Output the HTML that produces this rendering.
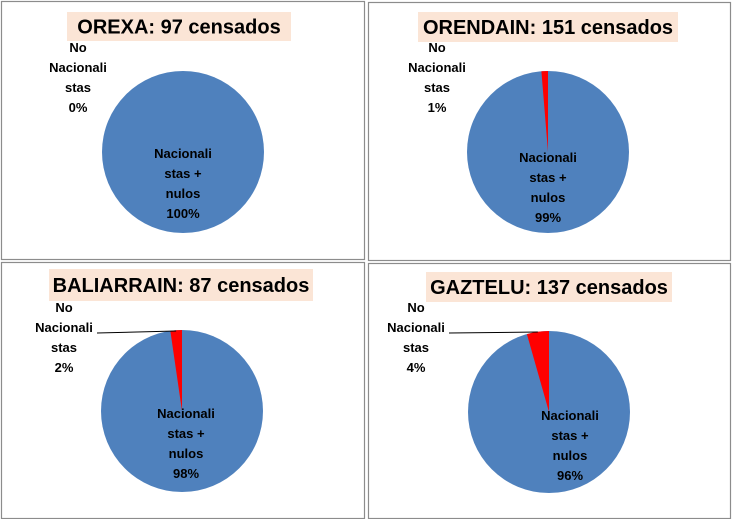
<!DOCTYPE html>
<html><head><meta charset="utf-8"><style>
body{margin:0;width:732px;height:519px;background:#fff;overflow:hidden;font-family:"Liberation Sans",sans-serif}
svg text{font-family:"Liberation Sans",sans-serif;font-weight:bold}
</style></head><body>
<svg id="c" width="732" height="519"></svg>
<script>
const titles=["OREXA: 97  censados","ORENDAIN: 151 censados","BALIARRAIN: 87 censados","GAZTELU: 137 censados"];
const noNacPct=[0,1.3,2.3,4.4];
const noNacLabels=["0%","1%","2%","4%"];
const nacLabels=["100%","99%","98%","96%"];
const NS="http://www.w3.org/2000/svg";
const svg=document.getElementById('c');
const panels=[
 {x:1,y:1,w:363,h:258,cx:183,cy:152,tx:67,ty:12,tw:224,th:29,lx:78,ly:52,ix:183,iy:158,leader:false},
 {x:368,y:2,w:362,h:258,cx:548,cy:152,tx:418,ty:12,tw:260,th:30,lx:437,ly:52,ix:548,iy:162,leader:false},
 {x:1,y:262,w:363,h:256,cx:182,cy:411,tx:49,ty:269,tw:264,th:32,lx:64,ly:312,ix:186,iy:418,leader:true},
 {x:368,y:263,w:362,h:255,cx:549,cy:412,tx:426,ty:272,tw:246,th:30,lx:416,ly:312,ix:570,iy:420,leader:true}];
function el(t,a,p){const e=document.createElementNS(NS,t);for(const k in a)e.setAttribute(k,a[k]);(p||svg).appendChild(e);return e;}
const R=81;
panels.forEach((p,i)=>{
 const g=el('g',{});
 
 
 el('rect',{x:p.x+0.5,y:p.y+0.5,width:p.w,height:p.h,fill:'#fff',stroke:'#8c8c8c','stroke-width':1.2},g);
 const tb=el('rect',{x:p.tx,y:p.ty,width:p.tw,height:p.th,fill:'#fbe5d6'},g);
 
 
 const tt=el('text',{x:p.tx+p.tw/2,y:p.ty+p.th/2+7,'text-anchor':'middle','font-size':20,fill:'#000'},g);
 tt.textContent=titles[i];
 
 
 const c=el('circle',{cx:p.cx,cy:p.cy,r:R,fill:'#4f81bd'},g);
 
 
 const a=noNacPct[i]/100*2*Math.PI;
 if(a>0){
  const ex=p.cx-R*Math.sin(a),ey=p.cy-R*Math.cos(a);
  const s=el('path',{d:`M${p.cx},${p.cy}L${p.cx},${p.cy-R}A${R},${R} 0 0 0 ${ex},${ey}Z`,fill:'#ff0000'},g);
  
  
 }
 const l1=["No","Nacionali","stas",noNacLabels[i]];
 const lt=el('text',{'font-size':13,'text-anchor':'middle',fill:'#000'},g);
 
 
 l1.forEach((s2,k)=>{const ts=el('tspan',{x:p.lx,y:p.ly+k*20},lt);ts.textContent=s2;});
 if(p.leader){
  const ln=el('path',{d:`M${p.lx+33},${p.ly+21}L${p.cx-R*Math.sin(a/2)},${p.cy-R+1}`,stroke:'#000',fill:'none','stroke-width':1},g);
  
  
 }
 const l2=["Nacionali","stas +","nulos",nacLabels[i]];
 const it=el('text',{'font-size':13,'text-anchor':'middle',fill:'#000'},g);
 
 
 l2.forEach((s2,k)=>{const ts=el('tspan',{x:p.ix,y:p.iy+k*20},it);ts.textContent=s2;});
});
</script>
</body></html>
